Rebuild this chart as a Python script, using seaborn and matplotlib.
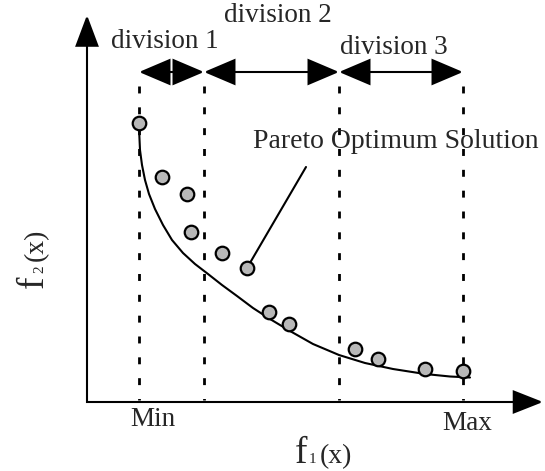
import matplotlib
matplotlib.use("Agg")
import matplotlib.pyplot as plt
import seaborn as sns
import pandas as pd
from matplotlib.patches import FancyArrowPatch

# ---- data (in picture units) ----
pts_f1 = [139, 162, 187, 191, 222, 247, 269, 289, 355, 378, 425, 463]
pts_f2 = [123, 177, 194, 232, 253, 268, 312, 324, 349, 359, 369, 371]
curve_f1 = [139, 140, 142, 145, 149, 155, 163, 172, 183, 195, 208, 222, 237, 253,
            270, 290, 313, 339, 365, 393, 425, 450, 470]
curve_f2 = [128, 150, 165, 180, 194, 209, 225, 240, 253, 264, 274, 285, 296, 308,
            319, 331, 344, 355, 363, 369, 374, 376.5, 377.5]
division_bounds = [139, 204, 339, 463]
division_labels = ["division 1", "division 2", "division 3"]
tick_labels = ["Min", "Max"]
pointer_from = (247, 268)
pointer_to = (306, 167)

sns.set_theme(style="white")
plt.rcParams["font.family"] = ["Liberation Serif", "DejaVu Serif"]
plt.rcParams["lines.scale_dashes"] = False

fig = plt.figure(figsize=(5.45, 4.71), dpi=100)
ax = fig.add_axes([0, 0, 1, 1])


def arrow(p0, p1, style, hl, hw, lw=1.5):
    a = FancyArrowPatch(p0, p1, arrowstyle=f"{style},head_length={hl},head_width={hw}",
                        mutation_scale=1, shrinkA=0, shrinkB=0, lw=lw,
                        color="black", joinstyle="miter", capstyle="butt")
    ax.add_patch(a)


# dashed division lines
for xb in division_bounds:
    ax.plot([xb, xb], [86, 400], color="black", lw=2.0, dashes=(5, 10))

# Pareto curve and points
df_curve = pd.DataFrame({"f1": curve_f1, "f2": curve_f2})
sns.lineplot(data=df_curve, x="f1", y="f2", ax=ax, color="black", lw=1.5,
             sort=False, estimator=None)
ax.plot([pointer_from[0], pointer_to[0]], [pointer_from[1], pointer_to[1]],
        color="black", lw=1.5)
df_pts = pd.DataFrame({"f1": pts_f1, "f2": pts_f2})
sns.scatterplot(data=df_pts, x="f1", y="f2", ax=ax, s=95, color="#b8b8b8",
                edgecolor="black", linewidth=1.6, zorder=5)

ax.set_xlim(0, 545)
ax.set_ylim(471, 0)
ax.axis("off")

# axes with arrows
ox, oy = 87, 402
arrow((ox, oy + 1), (ox, 15), "-|>", 20, 7.5)
arrow((ox - 1, oy), (543, oy), "-|>", 19, 7.5)

# division arrows
for a, b in zip(division_bounds[:-1], division_bounds[1:]):
    arrow((a, 72), (b, 72), "<|-|>", 20, 8.5)

label_pos = [(165, 42), (278, 15), (394, 47)]
for (x, y), t in zip(label_pos, division_labels):
    ax.text(x, y, t, ha="center", va="center", fontsize=19.5)

ax.text(253, 142, "Pareto Optimum Solution", ha="left", va="center", fontsize=20)

ax.text(153, 420, tick_labels[0], ha="center", va="center", fontsize=19.5)
ax.text(467, 423, tick_labels[1], ha="center", va="center", fontsize=19.5)

# axis titles
ax.text(295, 463, "f", ha="left", va="baseline", fontsize=27)
ax.text(308.5, 463, "1", ha="left", va="baseline", fontsize=11)
ax.text(320, 463, "(x)", ha="left", va="baseline", fontsize=20)

ax.text(43, 288, "f", ha="left", va="baseline", fontsize=27, rotation=90, rotation_mode="anchor")
ax.text(43, 273, "2", ha="left", va="baseline", fontsize=11, rotation=90, rotation_mode="anchor")
ax.text(43, 261, "(x)", ha="left", va="baseline", fontsize=20, rotation=90, rotation_mode="anchor")

fig.savefig("out.png", dpi=100)
